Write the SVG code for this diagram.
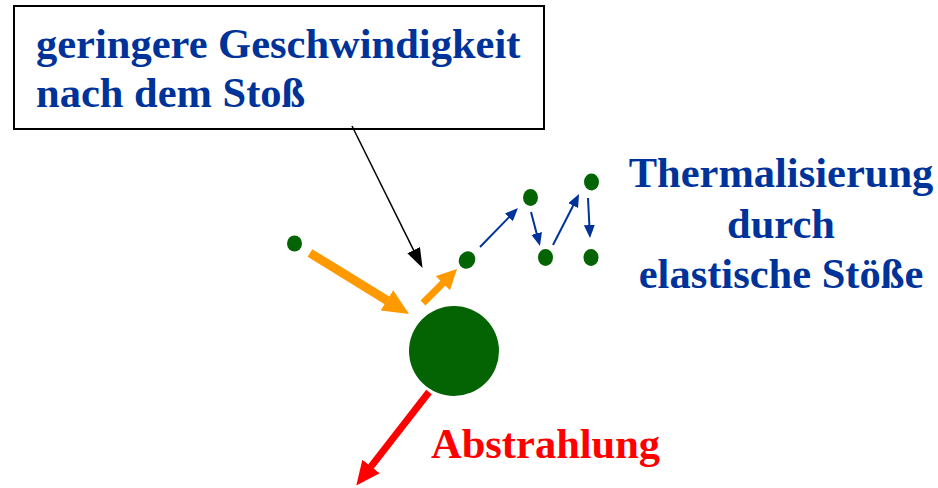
<svg xmlns="http://www.w3.org/2000/svg" width="938" height="488" viewBox="0 0 938 488">
<style>
.t{font-family:"Liberation Serif","Times New Roman",serif;font-weight:bold;font-size:42.5px}
.blue{fill:#003399}
.red{fill:#FF0000}
.dot{fill:#046404}
</style>
<defs>
<marker id="hOr1" markerUnits="userSpaceOnUse" markerWidth="26" markerHeight="26" refX="2" refY="13" orient="auto"><path d="M0,1 L26,13 L0,25 z" fill="#FF9900"/></marker>
<marker id="hOr2" markerUnits="userSpaceOnUse" markerWidth="20" markerHeight="20" refX="2" refY="10" orient="auto"><path d="M0,0 L20,10 L0,20 z" fill="#FF9900"/></marker>
<marker id="hBk" markerUnits="userSpaceOnUse" markerWidth="20" markerHeight="14" refX="1" refY="7" orient="auto"><path d="M0,0 L20,7 L0,14 z" fill="#000"/></marker>
<marker id="hBl" markerUnits="userSpaceOnUse" markerWidth="13" markerHeight="11" refX="1" refY="5.5" orient="auto"><path d="M0,0 L13,5.5 L0,11 z" fill="#003399"/></marker>
<marker id="hRd" markerUnits="userSpaceOnUse" markerWidth="24" markerHeight="22" refX="2" refY="11" orient="auto"><path d="M0,0 L24,11 L0,22 z" fill="#FF0000"/></marker>
</defs>
<g id="label-box">
<rect x="14" y="6" width="530" height="123" fill="#fff" stroke="#000" stroke-width="2"/>
<text class="t blue" x="36" y="58">geringere Geschwindigkeit</text>
<text class="t blue" x="36" y="107">nach dem Stoß</text>
</g>
<g id="label-thermal">
<text class="t blue" x="781" y="187" text-anchor="middle">Thermalisierung</text>
<text class="t blue" x="781" y="238" text-anchor="middle">durch</text>
<text class="t blue" x="781" y="288" text-anchor="middle">elastische Stöße</text>
</g>
<g id="label-abstrahlung">
<text class="t red" x="431" y="458">Abstrahlung</text>
</g>
<g id="nucleus"><circle cx="454" cy="351" r="45" class="dot"/></g>
<g id="particle-in"><ellipse cx="294.5" cy="243.5" rx="7.5" ry="8" class="dot"/></g>
<g id="particle-1"><ellipse cx="467" cy="260" rx="8" ry="9" transform="rotate(30 467 260)" class="dot"/></g>
<g id="particle-2"><ellipse cx="530.5" cy="197.5" rx="7.5" ry="8.5" class="dot"/></g>
<g id="particle-3"><ellipse cx="545.5" cy="257.5" rx="7.5" ry="8.5" class="dot"/></g>
<g id="particle-4"><ellipse cx="591.5" cy="182" rx="7.5" ry="8.5" class="dot"/></g>
<g id="particle-5"><ellipse cx="591" cy="257.5" rx="7.5" ry="8.5" class="dot"/></g>
<g id="connectors" fill="none">
<line x1="310" y1="253" x2="388.6" y2="301.4" stroke="#FF9900" stroke-width="9" marker-end="url(#hOr1)"/>
<line x1="423" y1="303" x2="444.3" y2="281.7" stroke="#FF9900" stroke-width="7" marker-end="url(#hOr2)"/>
<line x1="352" y1="126" x2="414.1" y2="251.1" stroke="#000" stroke-width="1.5" marker-end="url(#hBk)"/>
<line x1="480" y1="247" x2="509.6" y2="216.6" stroke="#003399" stroke-width="2" marker-end="url(#hBl)"/>
<line x1="531" y1="212" x2="536.9" y2="234.4" stroke="#003399" stroke-width="2" marker-end="url(#hBl)"/>
<line x1="553" y1="245" x2="573.6" y2="204.7" stroke="#003399" stroke-width="2" marker-end="url(#hBl)"/>
<line x1="588" y1="198" x2="589.4" y2="226" stroke="#003399" stroke-width="2" marker-end="url(#hBl)"/>
<line x1="429" y1="392" x2="369.8" y2="468.1" stroke="#FF0000" stroke-width="7" marker-end="url(#hRd)"/>
</g>
</svg>
